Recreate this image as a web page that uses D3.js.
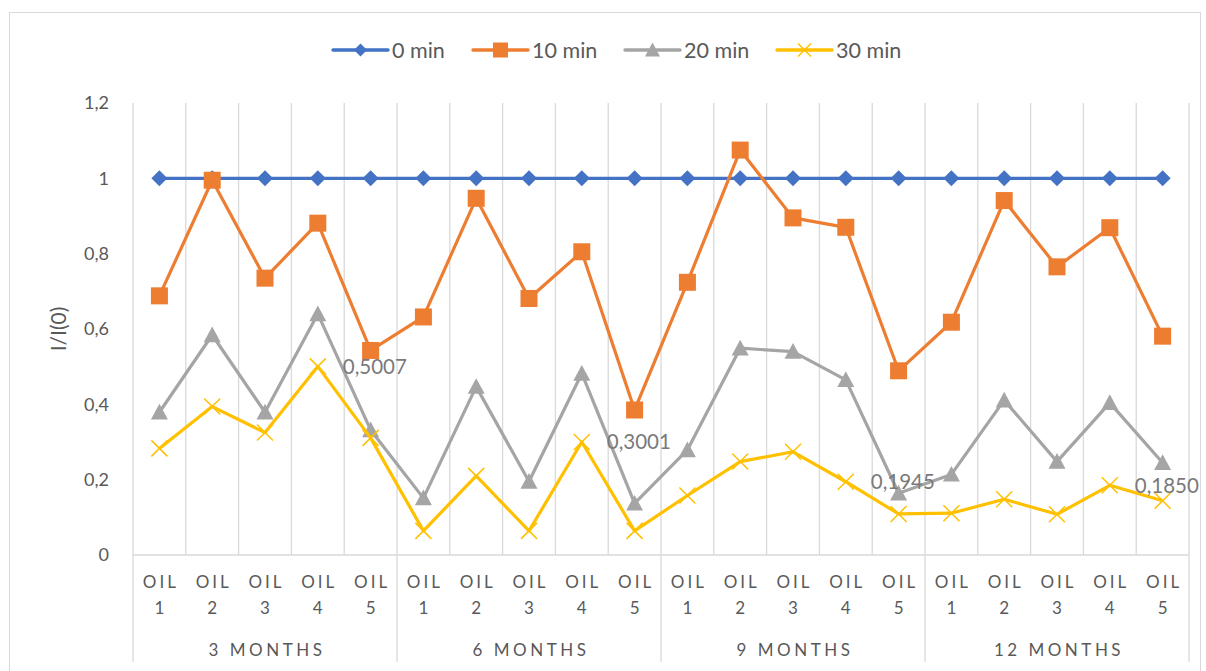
<!DOCTYPE html>
<html>
<head>
<meta charset="utf-8">
<script src="https://cdn.jsdelivr.net/npm/d3@7"></script>
<style>
  html, body { margin: 0; padding: 0; background: #fff; }
  svg { display: block; font-family: Lato, "Open Sans", sans-serif; }
</style>
</head>
<body>
<svg id="chart" width="1206" height="671"></svg>
<script>
// ---- data ----
const groups = ["3 MONTHS", "6 MONTHS", "9 MONTHS", "12 MONTHS"];
const oils = ["OIL 1", "OIL 2", "OIL 3", "OIL 4", "OIL 5"];
const seriesNames = ["0 min", "10 min", "20 min", "30 min"];
const s0 = [1,1,1,1,1, 1,1,1,1,1, 1,1,1,1,1, 1,1,1,1,1];
const s10 = [0.688,0.995,0.735,0.881,0.543, 0.632,0.947,0.681,0.805,0.385, 0.724,1.075,0.895,0.870,0.489, 0.618,0.941,0.765,0.869,0.581];
const s20 = [0.379,0.584,0.379,0.640,0.332, 0.151,0.447,0.195,0.482,0.137, 0.279,0.549,0.540,0.465,0.164, 0.214,0.411,0.248,0.404,0.245];
const s30 = [0.283,0.394,0.325,0.5007,0.311, 0.064,0.210,0.064,0.3001,0.064, 0.158,0.248,0.274,0.1945,0.109, 0.111,0.148,0.108,0.1850,0.144];
const labelled = [3, 8, 13, 18]; // indices of 30 min points with data labels
const yTicks = [0, 0.2, 0.4, 0.6, 0.8, 1, 1.2];

const colors = ["#4472C4", "#ED7D31", "#A5A5A5", "#FFC000"];
const markers = ["diamond", "square", "triangle", "x"];
const allSeries = [s0, s10, s20, s30];

const cats = [];
groups.forEach(g => oils.forEach(o => cats.push(g + "|" + o)));

// ---- layout ----
const svg = d3.select("#chart");
const L = 133, R = 1189, T = 103, B = 555;

const x = d3.scaleBand().domain(cats).range([L, R]);
const y = d3.scaleLinear().domain([0, 1.2]).range([B, T]);
const gx = d3.scaleBand().domain(groups).range([L, R]);

const fmt = d => String(d3.format("~g")(d)).replace(".", ",");

// outer border
svg.append("rect").attr("x", 9.5).attr("y", 12.5).attr("width", 1191).attr("height", 670)
  .attr("fill", "none").attr("stroke", "#d9d9d9");

// vertical category gridlines
const gridG = svg.append("g");
cats.forEach((c, i) => {
  const xx = x(c) + x.bandwidth();
  const isGroup = (i + 1) % 5 === 0;
  gridG.append("line").attr("x1", xx).attr("x2", xx).attr("y1", T).attr("y2", isGroup ? 662 : B)
    .attr("stroke", "#d9d9d9").attr("stroke-width", 1.3);
});
gridG.append("line").attr("x1", L).attr("x2", L).attr("y1", T).attr("y2", 662)
  .attr("stroke", "#d9d9d9").attr("stroke-width", 1.3);
gridG.append("line").attr("x1", L).attr("x2", R).attr("y1", B).attr("y2", B)
  .attr("stroke", "#d9d9d9").attr("stroke-width", 1.3);

// y axis
const yAxis = d3.axisLeft(y).tickValues(yTicks).tickFormat(fmt).tickSize(0).tickPadding(24);
const yg = svg.append("g").attr("transform", `translate(${L},0)`).call(yAxis);
yg.select(".domain").remove();
yg.selectAll("text").attr("fill", "#595959").style("font-size", "18px").style("font-family", "Lato, sans-serif");

svg.append("text").attr("transform", `translate(66,${(T + B) / 2}) rotate(-90)`)
  .attr("text-anchor", "middle").attr("fill", "#595959").style("font-size", "21px")
  .text("I/I(0)");

// x axis labels
const xl = svg.append("g");
cats.forEach(c => {
  const [g, o] = c.split("|");
  const parts = o.split(" ");
  const cx = x(c) + x.bandwidth() / 2;
  const t = xl.append("text").attr("text-anchor", "middle").attr("fill", "#595959")
    .style("font-size", "17px").style("letter-spacing", "3px");
  t.append("tspan").attr("x", cx + 1.5).attr("y", 588).text(parts[0]);
  t.append("tspan").attr("x", cx + 1.5).attr("y", 614).text(parts[1]);
});
groups.forEach(g => {
  xl.append("text").attr("x", gx(g) + gx.bandwidth() / 2 + 2).attr("y", 656)
    .attr("text-anchor", "middle").attr("fill", "#595959")
    .style("font-size", "17px").style("letter-spacing", "3.5px").text(g);
});

// marker drawing
function drawMarker(sel, type, color, cx, cy, s) {
  if (type === "diamond") {
    sel.append("path").attr("d", `M${cx},${cy - s}L${cx + s},${cy}L${cx},${cy + s}L${cx - s},${cy}Z`).attr("fill", color);
  } else if (type === "square") {
    sel.append("rect").attr("x", cx - s).attr("y", cy - s).attr("width", 2 * s).attr("height", 2 * s).attr("fill", color);
  } else if (type === "triangle") {
    sel.append("path").attr("d", `M${cx},${cy - s}L${cx + s},${cy + s * 0.85}L${cx - s},${cy + s * 0.85}Z`).attr("fill", color);
  } else {
    sel.append("path").attr("d", `M${cx - s},${cy - s}L${cx + s},${cy + s}M${cx - s},${cy + s}L${cx + s},${cy - s}`)
      .attr("stroke", color).attr("stroke-width", 1.5).attr("fill", "none");
  }
}
const markerSize = [8, 8.5, 8.5, 8];
const legMarkerSize = [6.5, 7.5, 7.5, 6.5];

// series
const line = d3.line().x((d, i) => x(cats[i]) + x.bandwidth() / 2).y(d => y(d));
allSeries.forEach((vals, si) => {
  const g = svg.append("g");
  g.append("path").datum(vals).attr("d", line).attr("fill", "none")
    .attr("stroke", colors[si]).attr("stroke-width", 3.2).attr("stroke-linejoin", "round");
  vals.forEach((v, i) => drawMarker(g, markers[si], colors[si], x(cats[i]) + x.bandwidth() / 2, y(v), markerSize[si]));
});

// data labels
labelled.forEach(i => {
  svg.append("text").attr("x", x(cats[i]) + x.bandwidth() / 2 + 25).attr("y", y(s30[i]) + 7.5)
    .attr("fill", "#7a7a7a").style("font-size", "20.5px")
    .text(d3.format(".4f")(s30[i]).replace(".", ","));
});

// legend
const legX = [333, 473, 625, 777];
const legY = 50;
seriesNames.forEach((n, si) => {
  const g = svg.append("g");
  g.append("line").attr("x1", legX[si]).attr("x2", legX[si] + 55).attr("y1", legY).attr("y2", legY)
    .attr("stroke", colors[si]).attr("stroke-width", 3.4).attr("stroke-linecap", "round");
  drawMarker(g, markers[si], colors[si], legX[si] + 27.5, legY, legMarkerSize[si]);
  g.append("text").attr("x", legX[si] + 59).attr("y", legY + 7.5).attr("fill", "#595959")
    .style("font-size", "21.5px").text(n);
});
</script>
</body>
</html>
